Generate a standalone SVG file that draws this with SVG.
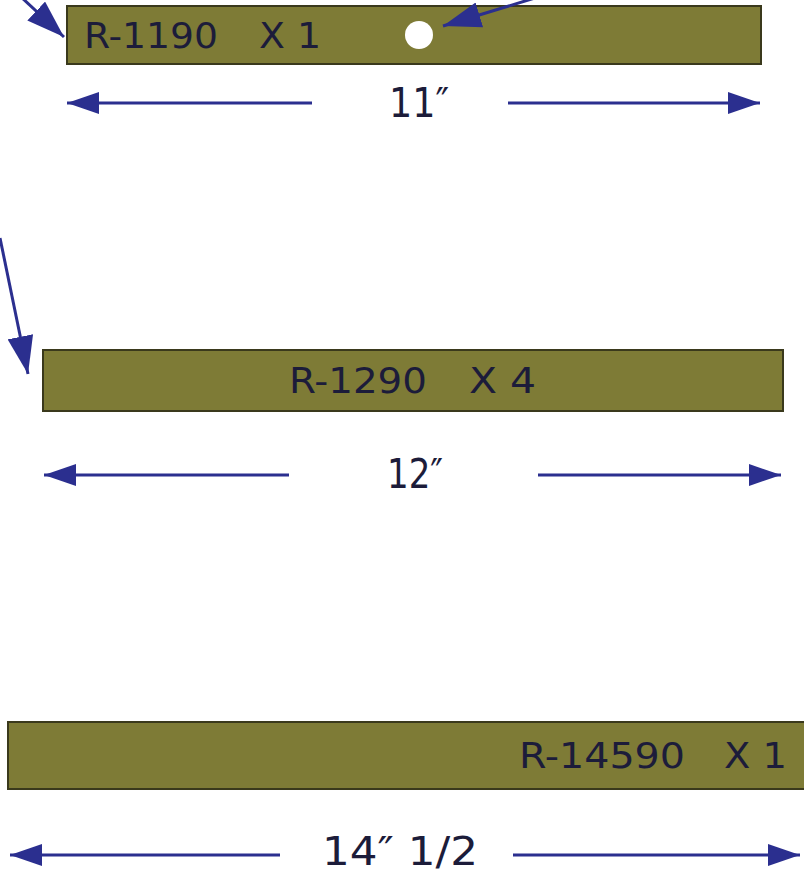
<svg xmlns="http://www.w3.org/2000/svg" width="804" height="876" viewBox="0 0 804 876">
<style>
.bar{fill:#7e7b36;stroke:#3a391c;stroke-width:2}
.lbl{font-family:"DejaVu Sans Condensed","DejaVu Sans","Liberation Sans",sans-serif;font-size:36px;fill:#1c1c3a}
.dim{font-family:"DejaVu Sans Condensed","DejaVu Sans","Liberation Sans",sans-serif;font-size:41px;fill:#1c1c3a;text-anchor:middle}
.ln{stroke:#2b2f8f;stroke-width:3;fill:none}
.hd{fill:#2b2f8f}
</style>
<defs>
<marker id="ah" viewBox="0 0 32 22" refX="32" refY="11" markerWidth="32" markerHeight="22" markerUnits="userSpaceOnUse" orient="auto">
<path d="M0,0 L32,11 L0,22 Z" class="hd"/>
</marker>
<marker id="ahb" viewBox="0 0 38 26" refX="38" refY="13" markerWidth="38" markerHeight="26" markerUnits="userSpaceOnUse" orient="auto">
<path d="M0,0 L38,13 L0,26 Z" class="hd"/>
</marker>
</defs>
<rect width="804" height="876" fill="#ffffff"/>
<g id="bar1">
<rect class="bar" x="67" y="6" width="694" height="58"/>
<text class="lbl" x="84" y="48" textLength="134" lengthAdjust="spacingAndGlyphs">R-1190</text>
<text class="lbl" x="259" y="48" textLength="62" lengthAdjust="spacingAndGlyphs">X 1</text>
<circle cx="419" cy="35" r="14" fill="#ffffff"/>
</g>
<g id="bar2">
<rect class="bar" x="43" y="350" width="740" height="61"/>
<text class="lbl" x="289" y="393" textLength="138" lengthAdjust="spacingAndGlyphs">R-1290</text>
<text class="lbl" x="469" y="393" textLength="67" lengthAdjust="spacingAndGlyphs">X 4</text>
</g>
<g id="bar3">
<rect class="bar" x="8" y="722" width="810" height="67"/>
<text class="lbl" x="519" y="768" textLength="166" lengthAdjust="spacingAndGlyphs">R-14590</text>
<text class="lbl" x="724" y="768" textLength="63" lengthAdjust="spacingAndGlyphs">X 1</text>
</g>
<g id="dims">
<text class="dim" x="419" y="117" textLength="60" lengthAdjust="spacingAndGlyphs">11″</text>
<text class="dim" x="415" y="488" textLength="56" lengthAdjust="spacingAndGlyphs">12″</text>
<text class="dim" x="400" y="865" style="font-size:39px" textLength="156" lengthAdjust="spacingAndGlyphs">14″ 1/2</text>
</g>
<g id="connectors">
<line class="ln" x1="312" y1="103" x2="67" y2="103" marker-end="url(#ah)"/>
<line class="ln" x1="508" y1="103" x2="760" y2="103" marker-end="url(#ah)"/>
<line class="ln" x1="289" y1="475" x2="44" y2="475" marker-end="url(#ah)"/>
<line class="ln" x1="538" y1="475" x2="781" y2="475" marker-end="url(#ah)"/>
<line class="ln" x1="280" y1="855" x2="10" y2="855" marker-end="url(#ah)"/>
<line class="ln" x1="513" y1="855" x2="800" y2="855" marker-end="url(#ah)"/>
<line class="ln" x1="20" y1="-4" x2="64" y2="37" marker-end="url(#ahb)"/>
<line class="ln" x1="535" y1="-2" x2="443" y2="26" marker-end="url(#ahb)"/>
<line class="ln" x1="0" y1="238" x2="28" y2="374" marker-end="url(#ahb)"/>
</g>
</svg>
